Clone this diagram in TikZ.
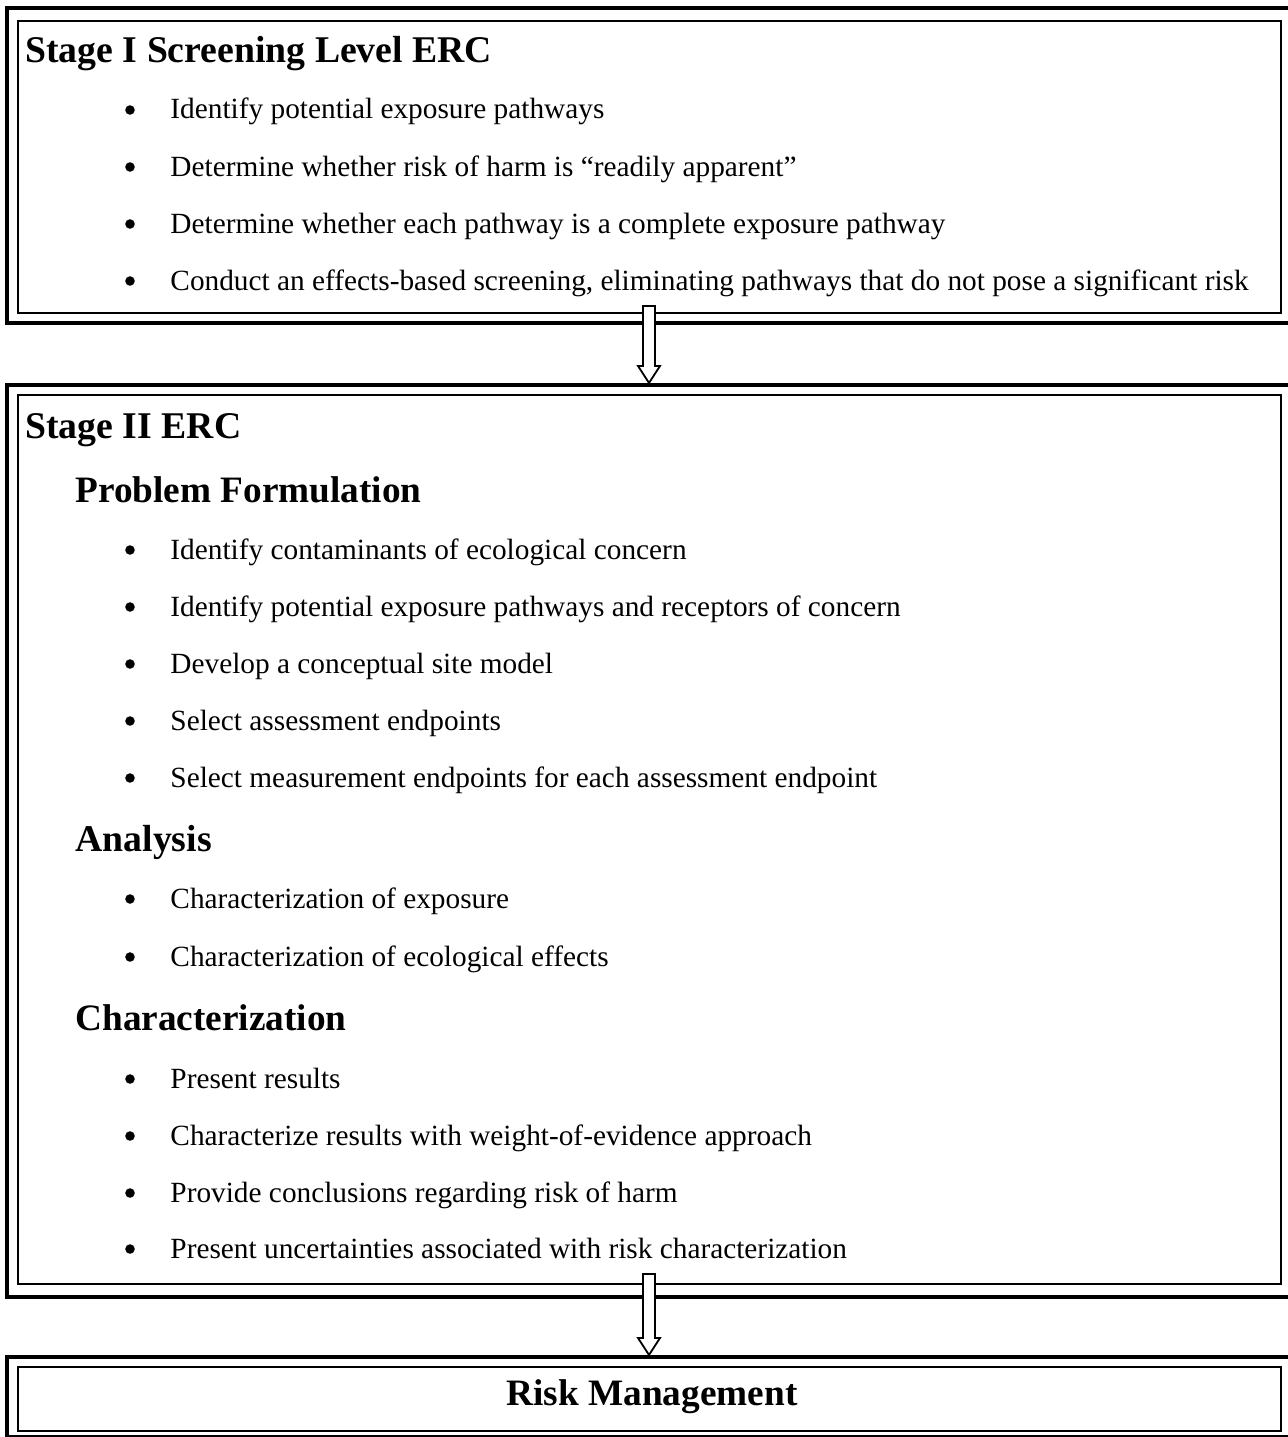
\documentclass[tikz,border=0pt]{standalone}
\usepackage{fontspec}
\setmainfont{Liberation Serif}
\usetikzlibrary{fit}

\begin{document}
\begin{tikzpicture}[x=0.44pt,y=-0.44pt]
   \tikzset{OuterBox/.style={draw, line width=1.8pt, inner sep=0pt}}
   \tikzset{InnerBox/.style={draw, line width=0.9pt, inner sep=0pt}}
   \tikzset{StageHead/.style={anchor=base west, inner sep=0pt, font=\fontsize{16.6}{19}\selectfont\bfseries}}
   \tikzset{SubHead/.style={anchor=base west, inner sep=0pt, font=\fontsize{16.4}{19}\selectfont\bfseries}}
   \tikzset{Item/.style={anchor=base west, inner sep=0pt, font=\fontsize{12.9}{15}\selectfont}}
   \tikzset{Dot/.style={circle, fill, inner sep=0pt, minimum size=4.2pt}}
   \tikzset{HollowArrow/.style={draw, fill=white, line width=0.8pt, line join=miter}}
   \useasboundingbox (0,0) rectangle (1287,1437);
   % frames
   \node[OuterBox, fit={(7,8) (1300,323)}] (s1out) {};
   \node[InnerBox, fit={(18,21) (1281,313)}] (s1in) {};
   \node[OuterBox, fit={(7,385) (1300,1297)}] (s2out) {};
   \node[InnerBox, fit={(18,395) (1281,1284)}] (s2in) {};
   \node[OuterBox, fit={(7,1357) (1300,1437)}] (s3out) {};
   \node[InnerBox, fit={(18,1367) (1281,1431)}] (s3in) {};
   % stage I
   \node[StageHead] (s1title) at (25,63) {Stage I Screening Level ERC};
   \node[Dot] (d11) at (130,110) {};
   \node[Item] (i11) at (170,119) {Identify potential exposure pathways};
   \node[Dot] (d12) at (130,167) {};
   \node[Item] (i12) at (170,176) {Determine whether risk of harm is “readily apparent”};
   \node[Dot] (d13) at (130,224) {};
   \node[Item] (i13) at (170,233) {Determine whether each pathway is a complete exposure pathway};
   \node[Dot] (d14) at (130,281) {};
   \node[Item] (i14) at (170,290) {Conduct an effects-based screening, eliminating pathways that do not pose a significant risk};
   % stage II
   \node[StageHead] (s2title) at (25,438) {Stage II ERC};
   \node[SubHead] (pf) at (75,502) {Problem Formulation};
   \node[Dot] (d21) at (130,550) {};
   \node[Item] (i21) at (170,559) {Identify contaminants of ecological concern};
   \node[Dot] (d22) at (130,607) {};
   \node[Item] (i22) at (170,616) {Identify potential exposure pathways and receptors of concern};
   \node[Dot] (d23) at (130,664) {};
   \node[Item] (i23) at (170,673) {Develop a conceptual site model};
   \node[Dot] (d24) at (130,721) {};
   \node[Item] (i24) at (170,730) {Select assessment endpoints};
   \node[Dot] (d25) at (130,778) {};
   \node[Item] (i25) at (170,787) {Select measurement endpoints for each assessment endpoint};
   \node[StageHead] (an) at (75,851) {Analysis};
   \node[Dot] (d31) at (130,899) {};
   \node[Item] (i31) at (170,908) {Characterization of exposure};
   \node[Dot] (d32) at (130,957) {};
   \node[Item] (i32) at (170,966) {Characterization of ecological effects};
   \node[SubHead] (ch) at (75,1030) {Characterization};
   \node[Dot] (d41) at (130,1079) {};
   \node[Item] (i41) at (170,1088) {Present results};
   \node[Dot] (d42) at (130,1136) {};
   \node[Item] (i42) at (170,1145) {Characterize results with weight-of-evidence approach};
   \node[Dot] (d43) at (130,1193) {};
   \node[Item] (i43) at (170,1202) {Provide conclusions regarding risk of harm};
   \node[Dot] (d44) at (130,1249) {};
   \node[Item] (i44) at (170,1258) {Present uncertainties associated with risk characterization};
   % stage III
   \node[SubHead, anchor=base] (rm) at (652,1405) {Risk Management};
   % arrows
   \coordinate (a1) at (649,306);
   \coordinate (a2) at (649,1274);
   \draw[HollowArrow] ([shift={(-6,0)}]a1) -- ([shift={(6,0)}]a1)
      -- ([shift={(6,-17)}]s2out.north -| a1) -- ([shift={(11,-17)}]s2out.north -| a1)
      -- (s2out.north -| a1) -- ([shift={(-11,-17)}]s2out.north -| a1)
      -- ([shift={(-6,-17)}]s2out.north -| a1) -- cycle;
   \draw[HollowArrow] ([shift={(-6,0)}]a2) -- ([shift={(6,0)}]a2)
      -- ([shift={(6,-17)}]s3out.north -| a2) -- ([shift={(11,-17)}]s3out.north -| a2)
      -- (s3out.north -| a2) -- ([shift={(-11,-17)}]s3out.north -| a2)
      -- ([shift={(-6,-17)}]s3out.north -| a2) -- cycle;
\end{tikzpicture}
\end{document}
